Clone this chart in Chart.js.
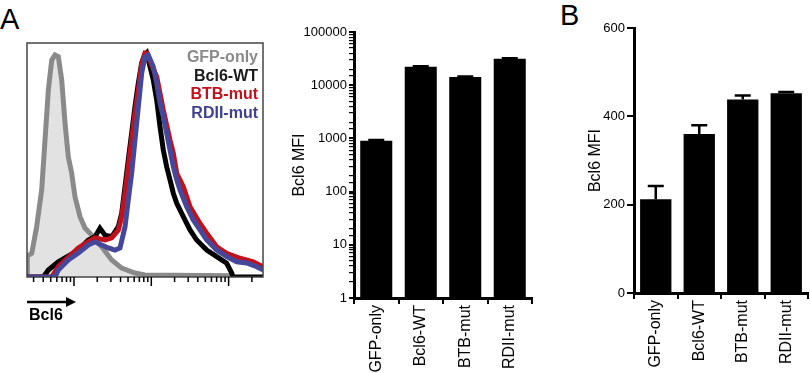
<!DOCTYPE html>
<html>
<head>
<meta charset="utf-8">
<script src="https://cdn.jsdelivr.net/npm/chart.js@4.4.1/dist/chart.umd.min.js"></script>
<style>
  body { margin: 0; background: #fff; }
  #wrap { position: relative; width: 810px; height: 373px; overflow: hidden; font-family: "Liberation Sans", Arial, sans-serif; }
  canvas { position: absolute; top: 0; }
  .panel { position: absolute; font-size: 29px; line-height: 1; color: #000; }
</style>
</head>
<body>
<div id="wrap">
  <div class="panel" style="left:0;top:5px">A</div>
  <div class="panel" style="left:560px;top:1px">B</div>
  <canvas id="histChart" width="280" height="373" style="left:0"></canvas>
  <canvas id="logChart" width="255" height="373" style="left:285px"></canvas>
  <canvas id="linChart" width="250" height="373" style="left:560px"></canvas>
</div>
<script>
// histogram (x in log10 decades of Bcl6 intensity, y in % of max)
const gfpX = [1.392, 1.396, 1.453, 1.517, 1.582, 1.625, 1.668, 1.712, 1.754, 1.797, 1.841, 1.884, 1.926, 1.970, 2.013, 2.078, 2.142, 2.229, 2.358, 2.488, 2.617, 2.789, 2.918, 4.018, 4.030];
const gfpY = [0, 9, 10.1, 21.5, 37.2, 58.5, 79.9, 92.7, 94.9, 94.2, 84.2, 65.8, 51.4, 44.4, 34.3, 25.8, 20.9, 17.9, 12.9, 7.3, 3.8, 1.7, 0.9, 0.5, 0];

const wtX = [1.392, 1.603, 1.668, 1.797, 2.056, 2.185, 2.272, 2.336, 2.401, 2.488, 2.573, 2.617, 2.660, 2.702, 2.746, 2.789, 2.832, 2.876, 2.918, 2.940, 3.026, 3.070, 3.113, 3.155, 3.199, 3.242, 3.285, 3.329, 3.414, 3.501, 3.587, 3.717, 3.846, 3.975, 4.040, 4.057, 4.445];
const wtY = [0, 0, 3.0, 6.5, 11.5, 15.8, 17.2, 20.8, 17.9, 17.2, 21.5, 27.2, 38.6, 50.0, 61.5, 72.8, 82.9, 91.5, 94.9, 95.7, 84.2, 75.6, 64.2, 54.3, 47.1, 41.5, 35.8, 31.5, 25.8, 20.1, 15.8, 11.5, 8.7, 5.9, 1.7, 0, 0];

const btbX = [1.392, 1.712, 1.797, 2.056, 2.185, 2.272, 2.401, 2.488, 2.573, 2.617, 2.660, 2.702, 2.746, 2.789, 2.832, 2.876, 2.918, 2.940, 3.070, 3.155, 3.242, 3.285, 3.329, 3.414, 3.501, 3.630, 3.717, 3.846, 3.975, 4.147, 4.320, 4.445];
const btbY = [0, 0, 4.4, 12.4, 15.1, 16.7, 15.8, 16.7, 20.1, 25.8, 35.9, 47.1, 58.5, 70.1, 79.9, 91.5, 95.7, 95.6, 85.6, 71.4, 58.5, 52.9, 44.3, 38.6, 30.0, 22.9, 18.7, 12.9, 10.1, 8.0, 6.5, 4.4];

const rdiiX = [1.392, 1.754, 1.797, 1.926, 2.056, 2.185, 2.272, 2.358, 2.444, 2.530, 2.595, 2.660, 2.702, 2.746, 2.789, 2.832, 2.876, 2.918, 2.961, 3.026, 3.070, 3.113, 3.155, 3.199, 3.242, 3.285, 3.329, 3.371, 3.458, 3.543, 3.630, 3.717, 3.846, 3.975, 4.105, 4.234, 4.364, 4.449];
const rdiiY = [0, 0, 3.0, 7.3, 10.3, 13.7, 15.1, 13.7, 12.4, 11.5, 12.4, 21.5, 32.9, 44.4, 58.5, 72.8, 87.2, 94.1, 94.9, 89.9, 82.9, 74.4, 68.5, 61.5, 54.3, 47.1, 41.5, 37.2, 30.0, 24.4, 20.1, 15.8, 11.5, 8.7, 6.5, 6.0, 4.4, 3.0];

const histTicks = [30, 40, 50, 60, 70, 80, 90, 100, 200, 300, 400, 500, 600, 700, 800, 900, 1000, 2000, 3000, 4000, 5000, 6000, 7000, 8000, 9000, 10000, 20000];
const legendLabels = ["GFP-only", "Bcl6-WT", "BTB-mut", "RDII-mut"];
const legendColors = ["#8a8a8a", "#1a1a1a", "#c1121c", "#3f408f"];

// bar charts
const categories = ["GFP-only", "Bcl6-WT", "BTB-mut", "RDII-mut"];
const mfiA = [900, 22200, 14200, 31400];
const mfiAErr = [30, 600, 400, 800];
const mfiB = [212, 360, 438, 452];
const mfiBErr = [30, 20, 9, 3];
const ticksB = [0, 200, 400, 600];

Chart.defaults.font.family = "'Liberation Sans', Arial, sans-serif";
Chart.defaults.color = "#000";

const pts = (xs, ys) => xs.map((x, i) => ({ x: x, y: ys[i] }));

const histDecor = {
  id: "histDecor",
  afterDraw(chart) {
    const { ctx, chartArea: a, scales: { x } } = chart;
    ctx.save();
    ctx.strokeStyle = "#444";
    ctx.lineWidth = 1.5;
    ctx.strokeRect(a.left, a.top, a.right - a.left, a.bottom - a.top);

    ctx.strokeStyle = "#000";
    ctx.lineWidth = 1.5;
    histTicks.forEach((t) => {
      const px = x.getPixelForValue(Math.log10(t));
      const major = Number.isInteger(Math.log10(t));
      ctx.beginPath();
      ctx.moveTo(px, a.bottom);
      ctx.lineTo(px, a.bottom + (major ? 9 : 5));
      ctx.stroke();
    });

    // Bcl6 arrow
    ctx.lineWidth = 2.5;
    ctx.beginPath();
    ctx.moveTo(27, 302);
    ctx.lineTo(68, 302);
    ctx.stroke();
    ctx.fillStyle = "#000";
    ctx.beginPath();
    ctx.moveTo(76, 302);
    ctx.lineTo(66, 297);
    ctx.lineTo(66, 307);
    ctx.closePath();
    ctx.fill();
    ctx.font = "bold 16px 'Liberation Sans', Arial, sans-serif";
    ctx.textAlign = "left";
    ctx.textBaseline = "alphabetic";
    ctx.fillText("Bcl6", 29, 320);

    ctx.textAlign = "right";
    legendLabels.forEach((s, i) => {
      ctx.fillStyle = legendColors[i];
      ctx.fillText(s, a.right - 5, 62 + i * 18.7);
    });
    ctx.restore();
  },
};

new Chart(document.getElementById("histChart"), {
  type: "line",
  data: {
    datasets: [
      { label: "GFP-only", data: pts(gfpX, gfpY), borderColor: "#8a8a8a", backgroundColor: "#e2e2e2", fill: "origin", order: 4 },
      { label: "Bcl6-WT", data: pts(wtX, wtY), borderColor: "#000", order: 3 },
      { label: "BTB-mut", data: pts(btbX, btbY), borderColor: "#c1121c", order: 2 },
      { label: "RDII-mut", data: pts(rdiiX, rdiiY), borderColor: "#45479b", order: 1 },
    ],
  },
  options: {
    responsive: false,
    animation: false,
    devicePixelRatio: 1,
    layout: { padding: { left: 27, top: 43, right: 17, bottom: 96 } },
    elements: { point: { radius: 0 }, line: { borderWidth: 5, tension: 0 } },
    scales: {
      x: { type: "linear", min: 1.392, max: 4.445, display: false },
      y: { min: 0, max: 100, display: false },
    },
    plugins: { legend: { display: false }, tooltip: { enabled: false } },
  },
  plugins: [histDecor],
});

function errorBars(values, errors) {
  return {
    id: "errorBars",
    afterDatasetsDraw(chart) {
      const { ctx, scales: { y } } = chart;
      const bars = chart.getDatasetMeta(0).data;
      ctx.save();
      ctx.strokeStyle = "#000";
      ctx.lineWidth = 2.5;
      bars.forEach((bar, i) => {
        const top = y.getPixelForValue(values[i] + errors[i]);
        ctx.beginPath();
        ctx.moveTo(bar.x, bar.y);
        ctx.lineTo(bar.x, top);
        ctx.moveTo(bar.x - 8, top);
        ctx.lineTo(bar.x + 8, top);
        ctx.stroke();
      });
      ctx.restore();
    },
  };
}

const xAxis = (h) => ({
  type: "category",
  afterFit(s) { s.height = h; },
  border: { color: "#000", width: 3 },
  grid: { drawOnChartArea: false, color: "#000", lineWidth: 2, tickLength: 6 },
  ticks: { minRotation: 90, maxRotation: 90, padding: 1, font: { size: 16 }, color: "#000" },
});

new Chart(document.getElementById("logChart"), {
  type: "bar",
  data: {
    labels: categories,
    datasets: [{ data: mfiA, backgroundColor: "#000", categoryPercentage: 1, barPercentage: 0.72 }],
  },
  options: {
    responsive: false,
    animation: false,
    devicePixelRatio: 1,
    layout: { padding: { top: 32, right: 8, left: 0, bottom: 0 } },
    scales: {
      x: xAxis(75),
      y: {
        type: "logarithmic",
        min: 1,
        max: 100000,
        afterFit(s) { s.width = 69; },
        border: { color: "#000", width: 3 },
        grid: {
          drawOnChartArea: false,
          color: "#000",
          tickLength: 5,
          lineWidth: (c) => (c.tick && Number.isInteger(Math.log10(c.tick.value)) ? 2 : 1.2),
        },
        ticks: {
          autoSkip: false,
          padding: 2,
          font: { size: 13 },
          callback: (v) => (Number.isInteger(Math.log10(v)) ? String(v) : ""),
        },
        title: { display: true, text: "Bcl6 MFI", font: { size: 16 }, padding: { top: 5, bottom: 0 } },
      },
    },
    plugins: { legend: { display: false }, tooltip: { enabled: false } },
  },
  plugins: [errorBars(mfiA, mfiAErr)],
});

new Chart(document.getElementById("linChart"), {
  type: "bar",
  data: {
    labels: categories,
    datasets: [{ data: mfiB, backgroundColor: "#000", categoryPercentage: 1, barPercentage: 0.72 }],
  },
  options: {
    responsive: false,
    animation: false,
    devicePixelRatio: 1,
    layout: { padding: { top: 28, right: 2, left: 0, bottom: 0 } },
    scales: {
      x: xAxis(80),
      y: {
        min: 0,
        max: 600,
        afterFit(s) { s.width = 74; },
        afterBuildTicks(s) { s.ticks = ticksB.map((v) => ({ value: v })); },
        border: { color: "#000", width: 3 },
        grid: { drawOnChartArea: false, color: "#000", lineWidth: 2, tickLength: 7 },
        ticks: { padding: 2, font: { size: 13 } },
        title: { display: true, text: "Bcl6 MFI", font: { size: 16 }, padding: { top: 26, bottom: 0 } },
      },
    },
    plugins: { legend: { display: false }, tooltip: { enabled: false } },
  },
  plugins: [errorBars(mfiB, mfiBErr)],
});
</script>
</body>
</html>
